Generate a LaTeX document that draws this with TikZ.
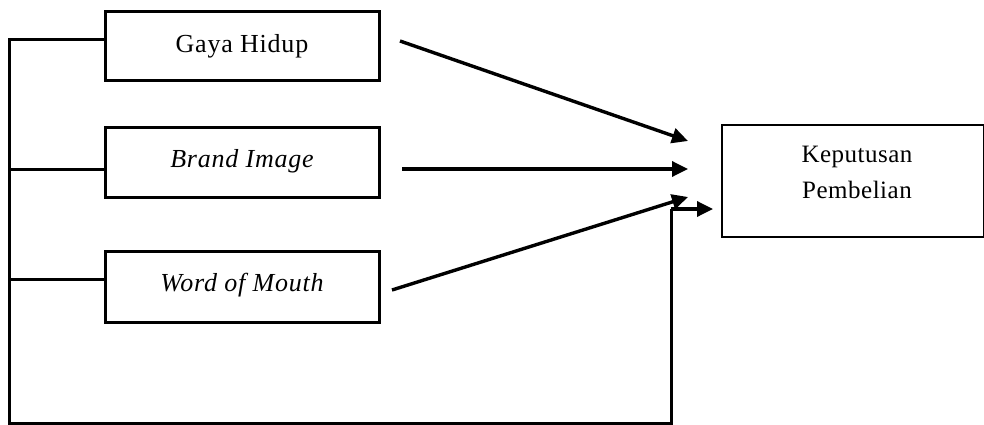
\documentclass[tikz,border=0pt]{standalone}
\usepackage{fontspec}
\setmainfont{Liberation Serif}
\usetikzlibrary{arrows.meta}
\begin{document}
\begin{tikzpicture}[x=1pt,y=-1pt,
  varbox/.style={draw, line width=3pt, rectangle, minimum width=274pt, inner sep=0pt,
    font=\fontsize{26}{30}\selectfont\addfontfeature{LetterSpace=3}},
  outbox/.style={draw, line width=2pt, rectangle, inner sep=0pt, align=center,
    font=\fontsize{25}{36}\selectfont\addfontfeature{LetterSpace=2}},
  wire/.style={line width=3pt},
  arr/.style={line width=3.4pt, -{Triangle[length=16pt,width=15pt]}}]
\useasboundingbox (0,0) rectangle (984,425);
\fill[white] (0,0) rectangle (984,425);

% variable boxes
\node[varbox, minimum height=69pt] (gh) at (242,46.5) {\raisebox{7pt}{Gaya Hidup}};
\node[varbox, minimum height=70pt] (bi) at (242,162) {\raisebox{7pt}{\itshape Brand Image}};
\node[varbox, minimum height=71pt] (wm) at (242,286.5) {\raisebox{8pt}{\itshape Word of Mouth}};

% outcome box
\node[outbox, minimum width=262pt, minimum height=112pt] (kp) at (853,181) {};
\node[outbox, draw=none, anchor=center] (kpt) at (857,172) {Keputusan\\Pembelian};

% free ends of the connectors
\coordinate (s1) at (400,41);
\coordinate (e1) at (688,141);
\coordinate (s2) at (402,169);
\coordinate (e2) at (688,169);
\coordinate (s3) at (392,290);
\coordinate (e3) at (688,197);
\coordinate (lt) at (9,40);
\coordinate (lb) at (9,423);
\coordinate (rb) at (671,423);
\coordinate (rt) at (671,209);
\coordinate (kin) at (713,209);

% arrows into the outcome
\draw[arr] (s1) -- (e1);
\draw[arr] (s2) -- (e2);
\draw[arr] (s3) -- (e3);

% joint feedback line
\draw[wire] (gh.west |- lt) -- (lt) -- (lb) -- (rb) -- (rt);
\draw[wire] (9,169) -- (bi.west |- 0,169);
\draw[wire] (9,279) -- (wm.west |- 0,279);
\draw[arr] (rt) -- (kin);
\end{tikzpicture}
\end{document}
